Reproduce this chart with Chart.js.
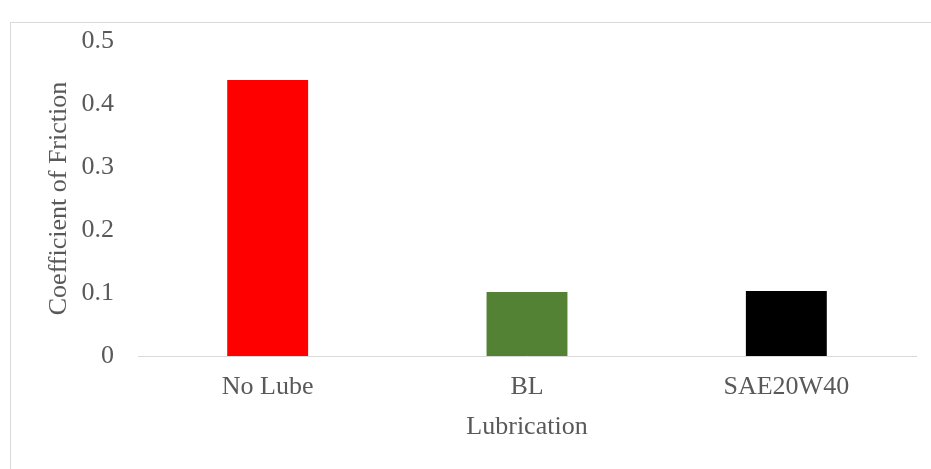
<!DOCTYPE html>
<html>
<head>
<meta charset="utf-8">
<script src="https://cdn.jsdelivr.net/npm/chart.js@4"></script>
<style>
  html, body { margin: 0; padding: 0; background: #ffffff; overflow: hidden; }
  #frame { position: absolute; left: 10px; top: 22px; width: 940px; height: 470px; border: 1px solid #d9d9d9; box-sizing: border-box; }
  #wrap { position: absolute; left: 0; top: 0; width: 931px; height: 469px; }
</style>
</head>
<body>
<div id="frame"></div>
<div id="wrap"><canvas id="c" width="931" height="469"></canvas></div>
<script>
const categories = ["No Lube", "BL", "SAE20W40"];
const frictionValues = [0.438, 0.1016, 0.1032];
const barColors = ["#ff0000", "#548235", "#000000"];
const yTickValues = [0, 0.1, 0.2, 0.3, 0.4, 0.5];
const xAxisTitle = "Lubrication";
const yAxisTitle = "Coefficient of Friction";

const FONT = "'Liberation Serif', 'Times New Roman', serif";
const TXT = "#595959";
const FS = 26;

new Chart(document.getElementById("c"), {
  type: "bar",
  data: {
    labels: categories,
    datasets: [{
      data: frictionValues,
      backgroundColor: barColors,
      borderWidth: 0,
      barPercentage: 0.312,
      categoryPercentage: 1.0
    }]
  },
  options: {
    responsive: false,
    animation: false,
    events: [],
    layout: { padding: { top: 41, right: 15, bottom: 0, left: 0 } },
    plugins: { legend: { display: false }, tooltip: { enabled: false } },
    scales: {
      x: {
        grid: { display: false, drawTicks: false },
        border: { display: true, color: "#d9d9d9", width: 1 },
        ticks: { color: TXT, font: { family: FONT, size: FS }, padding: 16 },
        title: { display: true, text: xAxisTitle, color: TXT, font: { family: FONT, size: FS }, padding: { top: 0, bottom: 26 } },
        afterFit: (s) => { s.height = 469 - 356; }
      },
      y: {
        min: 0, max: 0.5,
        afterBuildTicks: (s) => { s.ticks = yTickValues.map(v => ({ value: v })); },
        grid: { display: false, drawTicks: false },
        border: { display: false },
        ticks: {
          color: TXT, font: { family: FONT, size: FS }, padding: 24,
          callback: (v) => String(Math.round(v * 10) / 10)
        },
        title: { display: true, text: yAxisTitle, color: TXT, font: { family: FONT, size: FS }, padding: { top: 44, bottom: 0 } },
        afterFit: (s) => { s.width = 138; }
      }
    }
  }
});
</script>
</body>
</html>
